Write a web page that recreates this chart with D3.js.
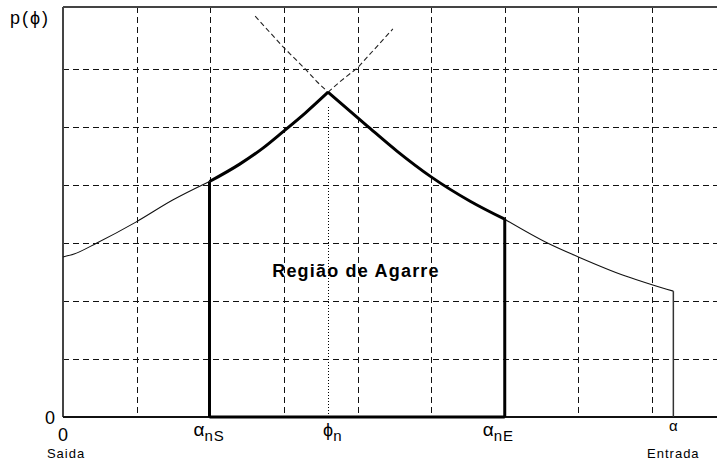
<!DOCTYPE html>
<html>
<head>
<meta charset="utf-8">
<script src="https://cdn.jsdelivr.net/npm/d3@7"></script>
<style>
  body { margin: 0; background: #fff; }
  text { font-family: "Liberation Sans", Arial, sans-serif; fill: #000; }
</style>
</head>
<body>
<div id="chart"></div>
<script>
// grid positions (in chart units)
const xGrid = [1, 2, 3, 4, 5, 6, 7, 8];
const yGrid = [1, 2, 3, 4, 5, 6];

// pressure curve, exit side (thin) then the grip region (thick) then entry side (thin)
const exitThin = [[0, 2.76], [0.15, 2.81], [0.46, 3.0], [0.99, 3.36], [1.49, 3.74], [1.99, 4.06]];
const gripLeft = [[1.99, 4.06], [2.40, 4.36], [2.72, 4.64], [2.99, 4.92], [3.29, 5.24], [3.60, 5.60]];
const gripRight = [[3.60, 5.60], [4.13, 5.02], [4.54, 4.58], [5.0, 4.14], [5.53, 3.72], [6.0, 3.41]];
const entryThin = [[6.0, 3.41], [6.58, 3.0], [7.0, 2.76], [7.64, 2.43], [8.0, 2.28], [8.29, 2.17]];

// dashed continuations above the neutral point
const dashLeft = [[2.61, 6.91], [2.99, 6.38], [3.29, 6.0], [3.45, 5.78], [3.60, 5.60]];
const dashRight = [[3.60, 5.60], [3.76, 5.78], [4.0, 6.02], [4.48, 6.69]];

// key angles
const alphaNS = 1.99, phiN = 3.60, alphaNE = 6.0, alphaIn = 8.29;

const width = 717, height = 464;
const plotLeft = 63, plotBottom = 417, plotTop = 7;

const x = d3.scaleLinear().domain([0, 8]).range([plotLeft, 652]);
const y = d3.scaleLinear().domain([0, 6]).range([plotBottom, 69]);

const svg = d3.select("#chart").append("svg")
  .attr("width", width)
  .attr("height", height);

// gridlines
svg.selectAll(".vgrid").data(xGrid).enter().append("line")
  .attr("x1", d => Math.round(x(d)) + 0.5).attr("x2", d => Math.round(x(d)) + 0.5)
  .attr("y1", plotTop).attr("y2", plotBottom)
  .attr("stroke", "#111").attr("stroke-width", 1.5)
  .attr("shape-rendering", "crispEdges")
  .attr("stroke-dasharray", "6,4");

svg.selectAll(".hgrid").data(yGrid).enter().append("line")
  .attr("x1", plotLeft).attr("x2", width)
  .attr("y1", d => Math.round(y(d)) + 0.5).attr("y2", d => Math.round(y(d)) + 0.5)
  .attr("stroke", "#111").attr("stroke-width", 1.5)
  .attr("shape-rendering", "crispEdges")
  .attr("stroke-dasharray", "6,4");

// frame
svg.append("line").attr("x1", plotLeft).attr("x2", width).attr("y1", plotTop).attr("y2", plotTop)
  .attr("stroke", "#444").attr("stroke-width", 2);
svg.append("line").attr("x1", plotLeft).attr("x2", plotLeft).attr("y1", plotTop).attr("y2", plotBottom)
  .attr("stroke", "#444").attr("stroke-width", 2);
svg.append("line").attr("x1", plotLeft).attr("x2", width).attr("y1", plotBottom).attr("y2", plotBottom)
  .attr("stroke", "#111").attr("stroke-width", 1.8);

const line = d3.line().x(d => x(d[0])).y(d => y(d[1])).curve(d3.curveMonotoneX);
const straight = d3.line().x(d => x(d[0])).y(d => y(d[1]));

// dashed extensions
[dashLeft, dashRight].forEach(pts => {
  svg.append("path").attr("d", straight(pts))
    .attr("fill", "none").attr("stroke", "#222").attr("stroke-width", 1.1)
    .attr("stroke-dasharray", "5,3");
});

// neutral point dotted line
svg.append("line")
  .attr("x1", Math.round(x(phiN)) + 0.5).attr("x2", Math.round(x(phiN)) + 0.5)
  .attr("y1", y(5.35)).attr("y2", plotBottom)
  .attr("stroke", "#000").attr("stroke-width", 1)
  .attr("shape-rendering", "crispEdges")
  .attr("stroke-dasharray", "1,2");

// thin curve parts
[exitThin, entryThin].forEach(pts => {
  svg.append("path").attr("d", line(pts))
    .attr("fill", "none").attr("stroke", "#111").attr("stroke-width", 1.1);
});

// entry vertical
svg.append("line")
  .attr("x1", x(alphaIn)).attr("x2", x(alphaIn))
  .attr("y1", y(entryThin[entryThin.length - 1][1])).attr("y2", plotBottom)
  .attr("stroke", "#333").attr("stroke-width", 1.5);

// grip region outline
svg.append("path").attr("d", line(gripLeft))
  .attr("fill", "none").attr("stroke", "#000").attr("stroke-width", 3);
svg.append("path").attr("d", line(gripRight))
  .attr("fill", "none").attr("stroke", "#000").attr("stroke-width", 3);
svg.append("line")
  .attr("x1", x(alphaNS)).attr("x2", x(alphaNS))
  .attr("y1", y(gripLeft[0][1])).attr("y2", plotBottom)
  .attr("stroke", "#000").attr("stroke-width", 3);
svg.append("line")
  .attr("x1", x(alphaNE)).attr("x2", x(alphaNE))
  .attr("y1", y(gripRight[gripRight.length - 1][1])).attr("y2", plotBottom)
  .attr("stroke", "#000").attr("stroke-width", 3);
svg.append("line")
  .attr("x1", x(alphaNS)).attr("x2", x(alphaNE))
  .attr("y1", plotBottom).attr("y2", plotBottom)
  .attr("stroke", "#000").attr("stroke-width", 3);

// labels
svg.append("text").attr("x", 10).attr("y", 24).style("font-size", "18px")
  .style("letter-spacing", "2px").text("p(ϕ)");
svg.append("text").attr("x", 55).attr("y", 424).attr("text-anchor", "end").style("font-size", "18px").text("0");
svg.append("text").attr("x", x(0)).attr("y", 441).attr("text-anchor", "middle").style("font-size", "18px").text("0");
svg.append("text").attr("x", x(0) + 3).attr("y", 458).attr("text-anchor", "middle").style("font-size", "13px")
  .style("letter-spacing", "1px").text("Saida");

function subLabel(cx, main, sub, size) {
  const t = svg.append("text").attr("x", cx).attr("y", 436).style("font-size", size + "px");
  t.append("tspan").text(main);
  t.append("tspan").attr("dy", 5).style("font-size", "15px").style("letter-spacing", "1px").text(sub);
  return t;
}
subLabel(x(alphaNS) - 16, "α", "nS", 19);
subLabel(x(phiN) - 5, "ϕ", "n", 18);
subLabel(x(alphaNE) - 22, "α", "nE", 19);

svg.append("text").attr("x", x(alphaIn)).attr("y", 431).attr("text-anchor", "middle")
  .style("font-size", "15px").text("α");
svg.append("text").attr("x", x(alphaIn)).attr("y", 458).attr("text-anchor", "middle")
  .style("font-size", "13px").style("letter-spacing", "1px").text("Entrada");

svg.append("text").attr("x", 356).attr("y", 277).attr("text-anchor", "middle")
  .style("font-size", "18px").style("font-weight", "bold").style("letter-spacing", "1.2px")
  .text("Região de Agarre");
</script>
</body>
</html>
